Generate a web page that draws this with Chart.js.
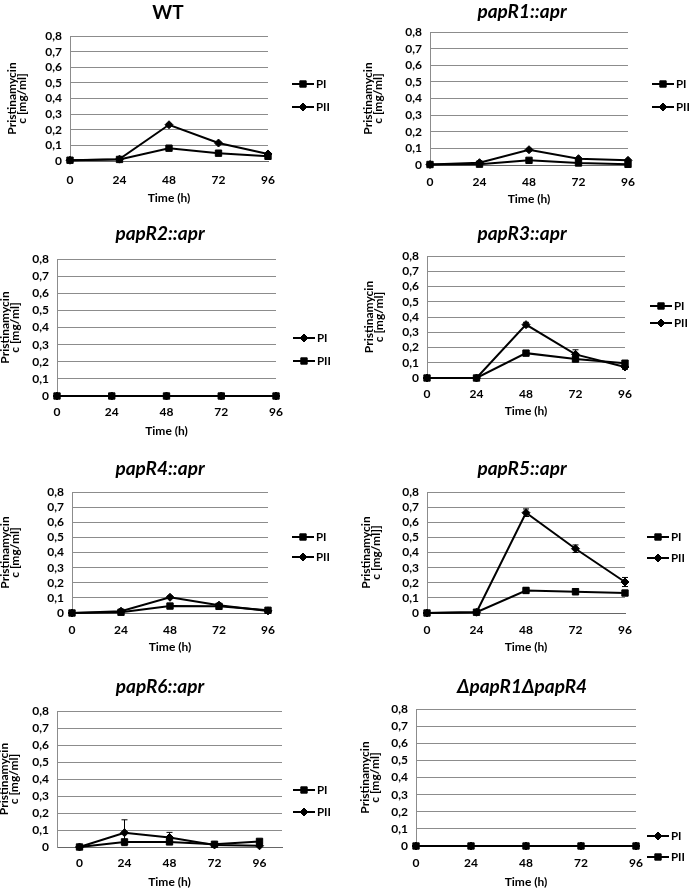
<!DOCTYPE html>
<html>
<head>
<meta charset="utf-8">
<script src="https://cdn.jsdelivr.net/npm/chart.js@4.4.0/dist/chart.umd.min.js"></script>
<style>
  body { margin: 0; background: #fff; width: 693px; height: 888px; overflow: hidden; position: relative; }
  canvas { position: absolute; }
</style>
</head>
<body>
<script>
// time points (h)
const hours = ['0', '24', '48', '72', '96'];
const yTitle = ['Pristinamycin', 'c [mg/ml]'];
const yTitleR5 = ['Pristinamycin', 'c [mg/ml]]'];

// concentrations (mg/ml)
const wtPI = [0.005, 0.01, 0.082, 0.05, 0.03];
const wtPII = [0.005, 0.012, 0.232, 0.115, 0.045];
const wtPIErr = [0, 0, 0.012, 0.006, 0.004];
const wtPIIErr = [0, 0, 0.006, 0.006, 0.006];

const r1PI = [0.003, 0.005, 0.028, 0.012, 0.004];
const r1PII = [0.003, 0.014, 0.092, 0.038, 0.028];
const r1PIErr = [0, 0, 0, 0, 0];
const r1PIIErr = [0, 0, 0.008, 0, 0];

const r2PI = [0, 0, 0, 0, 0];
const r2PII = [0, 0, 0, 0, 0];

const r3PI = [0, 0, 0.163, 0.124, 0.097];
const r3PII = [0, 0, 0.35, 0.155, 0.072];
const r3PIErr = [0, 0, 0.01, 0.01, 0.005];
const r3PIIErr = [0, 0, 0.015, 0.03, 0.015];

const r4PI = [0, 0.005, 0.046, 0.044, 0.018];
const r4PII = [0, 0.012, 0.104, 0.052, 0.014];
const r4PIErr = [0, 0, 0, 0, 0];
const r4PIIErr = [0, 0, 0.008, 0.008, 0];

const r5PI = [0, 0.005, 0.149, 0.141, 0.132];
const r5PII = [0, 0.005, 0.663, 0.425, 0.205];
const r5PIErr = [0, 0, 0.02, 0.02, 0.01];
const r5PIIErr = [0, 0, 0.025, 0.025, 0.03];

const r6PI = [0, 0.03, 0.03, 0.016, 0.033];
const r6PII = [0, 0.084, 0.056, 0.012, 0.007];
const r6PIErr = [0, 0, 0.01, 0, 0.01];
const r6PIIErr = [0, 0.076, 0.03, 0, 0];

const dPI = [0, 0, 0, 0, 0];
const dPII = [0, 0, 0, 0, 0];

const FONT = 'Lato, "Open Sans", sans-serif';

// layout of each panel (page pixels)
const panels = [
  { title: 'WT', italic: false, pi: wtPI, pii: wtPII, piErr: wtPIErr, piiErr: wtPIIErr, swap: false, offset: false, yt: yTitle,
    titleX: 168, titleY: 13, plot: [70, 36, 268, 161], labelY: 180, timeY: 198, yTitleX: 12, legX: 292, legY: [84, 107], right: 343 },
  { title: 'papR1::apr', italic: true, pi: r1PI, pii: r1PII, piErr: r1PIErr, piiErr: r1PIIErr, swap: false, offset: false, yt: yTitle,
    titleX: 522, titleY: 12, plot: [430, 32, 628, 165], labelY: 182, timeY: 199, yTitleX: 368, legX: 652, legY: [84, 107], right: 693 },
  { title: 'papR2::apr', italic: true, pi: r2PI, pii: r2PII, swap: true, offset: false, yt: yTitle,
    titleX: 160, titleY: 234, plot: [57, 259, 276, 396], labelY: 412, timeY: 431, yTitleX: 5, legX: 293, legY: [338, 361], right: 343 },
  { title: 'papR3::apr', italic: true, pi: r3PI, pii: r3PII, piErr: r3PIErr, piiErr: r3PIIErr, swap: false, offset: false, yt: yTitle,
    titleX: 522, titleY: 234, plot: [427, 256, 625, 378], labelY: 394, timeY: 411, yTitleX: 369, legX: 650, legY: [306, 323], right: 693 },
  { title: 'papR4::apr', italic: true, pi: r4PI, pii: r4PII, piErr: r4PIErr, piiErr: r4PIIErr, swap: false, offset: false, yt: yTitle,
    titleX: 160, titleY: 469, plot: [72, 492, 268, 613], labelY: 630, timeY: 647, yTitleX: 5, legX: 292, legY: [537, 557], right: 343 },
  { title: 'papR5::apr', italic: true, pi: r5PI, pii: r5PII, piErr: r5PIErr, piiErr: r5PIIErr, swap: false, offset: false, yt: yTitleR5,
    titleX: 522, titleY: 469, plot: [427, 492, 625, 613], labelY: 630, timeY: 647, yTitleX: 366, legX: 647, legY: [537, 558], right: 693 },
  { title: 'papR6::apr', italic: true, pi: r6PI, pii: r6PII, piErr: r6PIErr, piiErr: r6PIIErr, swap: false, offset: true, yt: yTitle,
    titleX: 160, titleY: 687, plot: [57, 711, 282, 847], labelY: 863, timeY: 882, yTitleX: 4, legX: 293, legY: [790, 812], right: 343 },
  { title: 'ΔpapR1ΔpapR4', italic: true, pi: dPI, pii: dPII, swap: true, offset: false, yt: yTitle,
    titleX: 522, titleY: 687, plot: [416, 709, 636, 846], labelY: 863, timeY: 882, yTitleX: 365, legX: 647, legY: [836, 857], right: 693 }
];

// error bars drawn from the dataset values through the y scale
const errorBars = {
  id: 'errorBars',
  afterDatasetsDraw(chart) {
    const ctx = chart.ctx, ys = chart.scales.y;
    chart.data.datasets.forEach((ds, i) => {
      if (!ds.errorBars) return;
      const meta = chart.getDatasetMeta(i);
      ctx.save();
      ctx.strokeStyle = '#000';
      ctx.lineWidth = 1;
      ds.errorBars.forEach((e, j) => {
        if (!e) return;
        const x = meta.data[j].x, v = ds.data[j];
        const yt = ys.getPixelForValue(v + e), yb = ys.getPixelForValue(Math.max(v - e, 0));
        ctx.beginPath();
        ctx.moveTo(x, yt); ctx.lineTo(x, yb);
        ctx.moveTo(x - 3, yt); ctx.lineTo(x + 3, yt);
        ctx.moveTo(x - 3, yb); ctx.lineTo(x + 3, yb);
        ctx.stroke();
      });
      ctx.restore();
    });
  }
};

// Excel-like legend: a short line with the marker in the middle
function lineLegend(x0, ys) {
  return {
    id: 'lineLegend',
    afterDraw(chart) {
      const ctx = chart.ctx;
      chart.data.datasets.forEach((ds, i) => {
        const y = ys[i];
        ctx.save();
        ctx.strokeStyle = ds.borderColor;
        ctx.lineWidth = ds.borderWidth;
        ctx.beginPath(); ctx.moveTo(x0, y); ctx.lineTo(x0 + 22, y); ctx.stroke();
        ctx.fillStyle = ds.backgroundColor;
        ctx.lineWidth = 1;
        Chart.helpers.drawPoint(ctx, { pointStyle: ds.pointStyle, radius: ds.pointRadius, borderWidth: 1, rotation: 0 }, x0 + 11, y);
        ctx.fillStyle = '#000';
        ctx.font = 'bold 11.5px ' + FONT;
        ctx.textBaseline = 'middle';
        ctx.fillText(ds.label, x0 + 24, y);
        ctx.restore();
      });
    }
  };
}

function fmt(v) {
  return v === 0 ? '0' : v.toFixed(1).replace('.', ',');
}

panels.forEach(p => {
  const [pl, pt, pr, pb] = p.plot;
  const cL = p.yTitleX - 5;
  const cT = p.titleY - 12;
  const cB = p.timeY + 8;
  const W = p.right - cL, H = cB - cT;
  const R = 2 * p.titleX - cL - pr;   // keeps the title centred on the panel
  const padR = p.right - (pr + R);
  const yW = pl - cL;
  const xH = cB - pb;

  const canvas = document.createElement('canvas');
  canvas.width = W; canvas.height = H;
  canvas.style.left = cL + 'px'; canvas.style.top = cT + 'px';
  canvas.style.width = W + 'px'; canvas.style.height = H + 'px';
  document.body.appendChild(canvas);

  const sq = { pointStyle: 'rect', pointRadius: 4.5 };
  const dm = { pointStyle: 'rectRot', pointRadius: 4 };
  const piStyle = p.swap ? dm : sq, piiStyle = p.swap ? sq : dm;

  new Chart(canvas.getContext('2d'), {
    type: 'line',
    data: {
      labels: hours,
      datasets: [
        { label: 'PI', data: p.pi, errorBars: p.piErr, borderColor: '#000', backgroundColor: '#000', borderWidth: 2,
          pointStyle: piStyle.pointStyle, pointRadius: piStyle.pointRadius, pointBorderWidth: 1, tension: 0, clip: false },
        { label: 'PII', data: p.pii, errorBars: p.piiErr, borderColor: '#000', backgroundColor: '#000', borderWidth: 2,
          pointStyle: piiStyle.pointStyle, pointRadius: piiStyle.pointRadius, pointBorderWidth: 1, tension: 0, clip: false }
      ]
    },
    options: {
      responsive: false,
      animation: false,
      layout: { padding: { left: 0, top: 0, bottom: 0, right: padR }, autoPadding: false },
      plugins: {
        legend: { display: false },
        tooltip: { enabled: false },
        title: {
          display: true, text: p.title, color: '#000',
          font: { family: FONT, size: 19, weight: 'bold', style: p.italic ? 'italic' : 'normal', lineHeight: 1.2 },
          padding: { top: 0.6, bottom: pt - p.titleY - 11.4 }
        }
      },
      scales: {
        x: {
          type: 'category', offset: p.offset,
          afterFit: s => { s.height = xH; s.paddingLeft = 0; s.paddingRight = 0; },
          grid: { display: false, drawTicks: false },
          border: { color: '#666', width: 1 },
          ticks: { color: '#000', padding: p.labelY - pb - 7.2, maxRotation: 0, autoSkip: false,
                   font: { family: FONT, size: 12, weight: 'bold' } },
          title: { display: true, text: 'Time (h)', color: '#000', padding: { top: 0, bottom: 1 },
                   font: { family: FONT, size: 12, weight: 'bold', lineHeight: 1.2 } }
        },
        y: {
          min: 0, max: 0.8,
          afterFit: s => { s.width = yW; s.paddingTop = 0; s.paddingBottom = 0; },
          grid: { color: '#8c8c8c', lineWidth: 1, drawTicks: false },
          border: { color: '#8c8c8c' },
          ticks: { stepSize: 0.1, autoSkip: false, padding: 8, color: '#000', callback: v => fmt(v),
                   font: { family: FONT, size: 12, weight: 'bold', lineHeight: 1 } },
          title: { display: true, text: p.yt, color: '#000', padding: { top: 0, bottom: 0 },
                   font: { family: FONT, size: 12, weight: 'bold', lineHeight: 0.84 } }
        },
        r: {
          type: 'linear', position: 'right', display: true, min: 0, max: 1,
          afterFit: s => { s.width = R; s.paddingTop = 0; s.paddingBottom = 0; },
          grid: { display: false, drawTicks: false },
          border: { display: false },
          ticks: { display: false }
        }
      }
    },
    plugins: [errorBars, lineLegend(p.legX - cL, p.legY.map(v => v - cT))]
  });
});
</script>
</body>
</html>
